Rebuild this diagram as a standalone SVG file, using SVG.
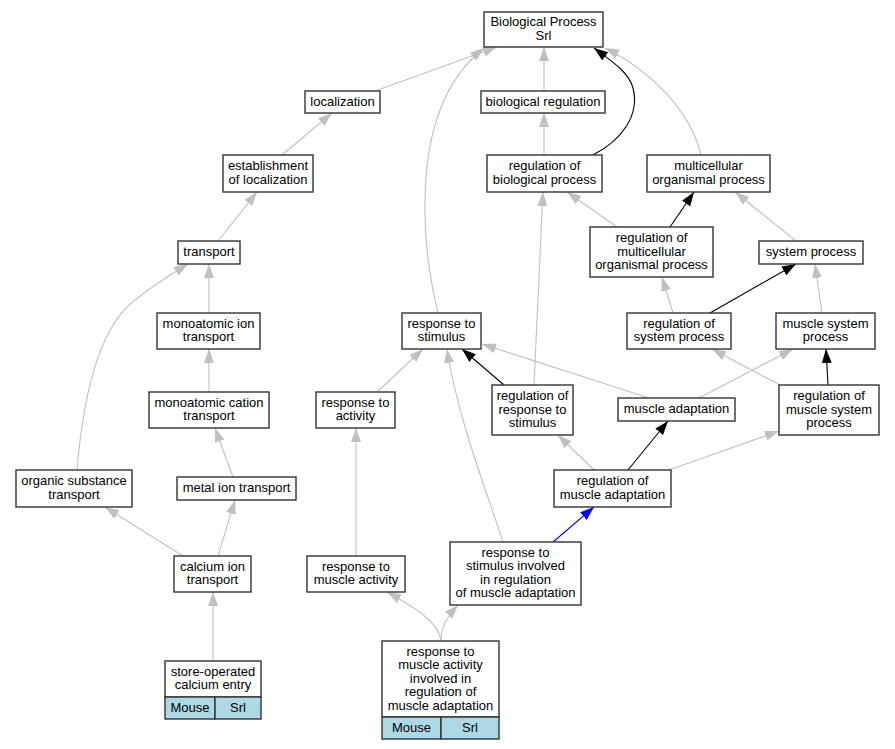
<svg xmlns="http://www.w3.org/2000/svg" width="895" height="749" viewBox="0 0 895 749">
<style>
text{font-family:"Liberation Sans",Arial,sans-serif;font-size:13px;text-anchor:middle;fill:#000}
.n rect{fill:#fff;stroke:#333;stroke-width:1.4}
.n rect.c{fill:#add8e6}
.e path{fill:none;stroke-width:1.1}
.g{stroke:#c0c0c0;marker-end:url(#ag)}
.k{stroke:#000;marker-end:url(#ak)}
.b{stroke:#0000ff;marker-end:url(#ab)}
</style>
<defs>
<marker id="ag" viewBox="0 0 14 10" refX="14" refY="5" markerWidth="14" markerHeight="10" markerUnits="userSpaceOnUse" orient="auto"><path d="M0,0L14,5L0,10z" fill="#c0c0c0"/></marker>
<marker id="ak" viewBox="0 0 14 10" refX="14" refY="5" markerWidth="14" markerHeight="10.5" markerUnits="userSpaceOnUse" orient="auto"><path d="M0,0L14,5L0,10z" fill="#000"/></marker>
<marker id="ab" viewBox="0 0 14 10" refX="14" refY="5" markerWidth="14" markerHeight="10.5" markerUnits="userSpaceOnUse" orient="auto"><path d="M0,0L14,5L0,10z" fill="#0000ff"/></marker>
</defs>
<rect width="895" height="749" fill="#fff"/>
<g id="edges" class="e">
<path class="g" d="M375,91 L497,47"/>
<path class="g" d="M544,91 L544,47"/>
<path class="k" d="M593,155 C622,140 640,115 633,88 C629,72 610,60 594,48"/>
<path class="g" d="M701,155 C690,110 650,70 605,48"/>
<path class="g" d="M438,313 C430,280 424,240 425,200 C426,120 450,75 484,48"/>
<path class="g" d="M544,155 L544,113"/>
<path class="g" d="M282,155 L332,113"/>
<path class="g" d="M218,241 L257,192"/>
<path class="g" d="M209,313 L209,264"/>
<path class="g" d="M77,470 C82,410 95,330 135,300 C150,288 165,278 188,264"/>
<path class="g" d="M209,392 L209,349"/>
<path class="g" d="M233,477 L215,428"/>
<path class="g" d="M218,556 L235,500"/>
<path class="g" d="M183,556 L105,507"/>
<path class="g" d="M213,661 L213,592"/>
<path class="g" d="M377,392 L423,349"/>
<path class="g" d="M356,556 L356,428"/>
<path class="k" d="M504,385 L462,349"/>
<path class="g" d="M534,385 C537,320 540,250 543,192"/>
<path class="g" d="M649,398 L482,344"/>
<path class="g" d="M699,398 L793,349"/>
<path class="g" d="M673,313 L662,277"/>
<path class="k" d="M710,313 L796,264"/>
<path class="g" d="M822,313 L815,264"/>
<path class="g" d="M780,385 L712,349"/>
<path class="k" d="M828,385 L826,349"/>
<path class="g" d="M594,470 L558,435"/>
<path class="k" d="M628,470 L668,421"/>
<path class="g" d="M669,470 L779,431"/>
<path class="g" d="M617,227 L567,192"/>
<path class="k" d="M670,227 L694,192"/>
<path class="g" d="M796,241 L735,192"/>
<path class="g" d="M503,542 C488,495 458,420 447,349"/>
<path class="b" d="M553,542 L594,507"/>
<path class="g" d="M441,641 C440,625 420,610 387,592"/>
<path class="g" d="M441,641 C441,628 446,618 458,605"/>
</g>
<g id="n_bp" class="n"><rect x="484" y="12" width="119" height="35"/><text x="543.5" y="26.2">Biological Process</text><text x="543.5" y="39.7">Srl</text></g>
<g id="n_loc" class="n"><rect x="305" y="91" width="75" height="22"/><text x="342.5" y="105.5">localization</text></g>
<g id="n_breg" class="n"><rect x="481" y="91" width="124" height="22"/><text x="543" y="105.5">biological regulation</text></g>
<g id="n_rbp" class="n"><rect x="487" y="155" width="115" height="37"/><text x="544.5" y="170.2">regulation of</text><text x="544.5" y="183.7">biological process</text></g>
<g id="n_mop" class="n"><rect x="647" y="155" width="123" height="37"/><text x="708.5" y="170.2">multicellular</text><text x="708.5" y="183.7">organismal process</text></g>
<g id="n_eol" class="n"><rect x="223" y="155" width="90" height="37"/><text x="268" y="170.2">establishment</text><text x="268" y="183.7">of localization</text></g>
<g id="n_tr" class="n"><rect x="178" y="241" width="62" height="23"/><text x="209" y="256">transport</text></g>
<g id="n_mit" class="n"><rect x="157" y="313" width="103" height="36"/><text x="208.5" y="327.7">monoatomic ion</text><text x="208.5" y="341.2">transport</text></g>
<g id="n_mct" class="n"><rect x="149" y="392" width="120" height="36"/><text x="209" y="406.7">monoatomic cation</text><text x="209" y="420.2">transport</text></g>
<g id="n_ost" class="n"><rect x="16" y="470" width="116" height="37"/><text x="74" y="485.2">organic substance</text><text x="74" y="498.7">transport</text></g>
<g id="n_mtl" class="n"><rect x="177" y="477" width="119" height="23"/><text x="236.5" y="492">metal ion transport</text></g>
<g id="n_rmop" class="n"><rect x="590" y="227" width="123" height="50"/><text x="651.5" y="242">regulation of</text><text x="651.5" y="255.5">multicellular</text><text x="651.5" y="269">organismal process</text></g>
<g id="n_sp" class="n"><rect x="759" y="241" width="104" height="23"/><text x="811" y="256">system process</text></g>
<g id="n_rs" class="n"><rect x="402" y="313" width="79" height="36"/><text x="441.5" y="327.7">response to</text><text x="441.5" y="341.2">stimulus</text></g>
<g id="n_rsp" class="n"><rect x="627" y="313" width="104" height="36"/><text x="679" y="327.7">regulation of</text><text x="679" y="341.2">system process</text></g>
<g id="n_msp" class="n"><rect x="776" y="313" width="99" height="36"/><text x="825.5" y="327.7">muscle system</text><text x="825.5" y="341.2">process</text></g>
<g id="n_rrs" class="n"><rect x="492" y="385" width="81" height="50"/><text x="532.5" y="400">regulation of</text><text x="532.5" y="413.5">response to</text><text x="532.5" y="427">stimulus</text></g>
<g id="n_ma" class="n"><rect x="618" y="398" width="117" height="23"/><text x="676.5" y="413">muscle adaptation</text></g>
<g id="n_rmsp" class="n"><rect x="779" y="385" width="100" height="50"/><text x="829" y="400">regulation of</text><text x="829" y="413.5">muscle system</text><text x="829" y="427">process</text></g>
<g id="n_rma" class="n"><rect x="554" y="470" width="117" height="37"/><text x="612.5" y="485.2">regulation of</text><text x="612.5" y="498.7">muscle adaptation</text></g>
<g id="n_ra" class="n"><rect x="316" y="392" width="79" height="36"/><text x="355.5" y="406.7">response to</text><text x="355.5" y="420.2">activity</text></g>
<g id="n_cit" class="n"><rect x="174" y="556" width="77" height="36"/><text x="212.5" y="570.7">calcium ion</text><text x="212.5" y="584.2">transport</text></g>
<g id="n_rmact" class="n"><rect x="307" y="556" width="98" height="36"/><text x="356" y="570.7">response to</text><text x="356" y="584.2">muscle activity</text></g>
<g id="n_rsirma" class="n"><rect x="450" y="542" width="131" height="63"/><text x="515.5" y="556.8">response to</text><text x="515.5" y="570.3">stimulus involved</text><text x="515.5" y="583.8">in regulation</text><text x="515.5" y="597.3">of muscle adaptation</text></g>
<g id="n_soce" class="n"><rect x="165" y="661" width="96" height="36"/><rect class="c" x="165" y="697" width="50" height="22"/><rect class="c" x="215" y="697" width="46" height="22"/><text x="213" y="675.7">store-operated</text><text x="213" y="689.2">calcium entry</text><text x="190" y="712">Mouse</text><text x="238" y="712">Srl</text></g>
<g id="n_rmairma" class="n"><rect x="382" y="641" width="117" height="76"/><rect class="c" x="382" y="717" width="59" height="22"/><rect class="c" x="441" y="717" width="58" height="22"/><text x="440.5" y="655.5">response to</text><text x="440.5" y="669">muscle activity</text><text x="440.5" y="682.5">involved in</text><text x="440.5" y="696">regulation of</text><text x="440.5" y="709.5">muscle adaptation</text><text x="411.5" y="732">Mouse</text><text x="470" y="732">Srl</text></g>
</svg>
